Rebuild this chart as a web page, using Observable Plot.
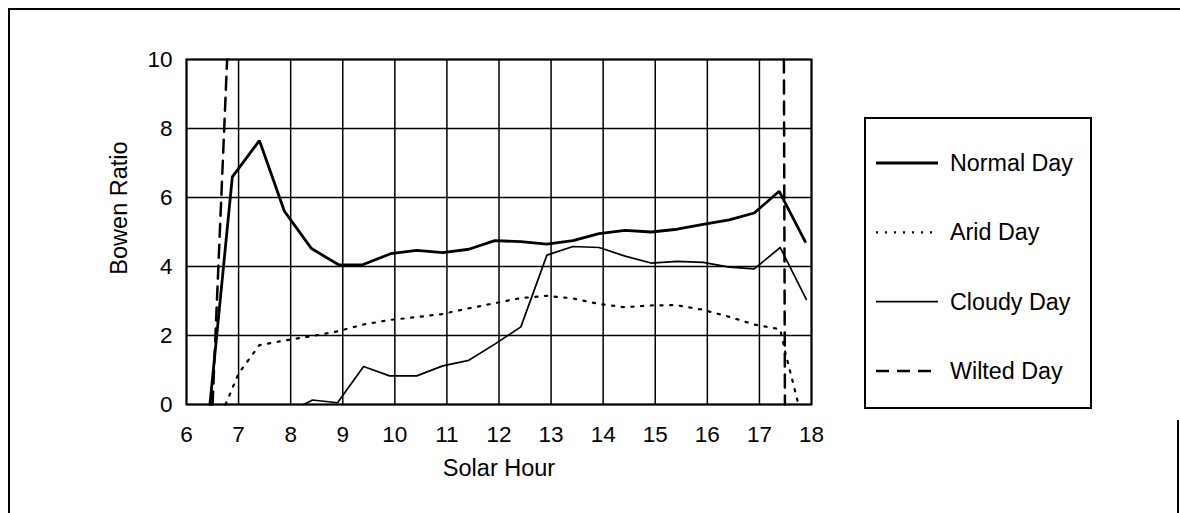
<!DOCTYPE html>
<html>
<head>
<meta charset="utf-8">
<script src="https://cdn.jsdelivr.net/npm/d3@7"></script>
<script src="https://cdn.jsdelivr.net/npm/@observablehq/plot@0.6"></script>
<style>
  body { margin: 0; background: #fff; }
  #wrap { position: relative; width: 1180px; height: 513px; overflow: hidden; background: #fff;
          font-family: "Liberation Sans", Arial, Helvetica, sans-serif; }
  #wrap svg { position: absolute; left: 0; top: 0; }
  .outer { position: absolute; border-color: #000; border-style: solid; border-width: 0; }
</style>
</head>
<body>
<div id="wrap">
  <div class="outer" style="left:8px;top:8px;width:1180px;height:600px;border-top-width:2px;border-left-width:2px;"></div>
  <div class="outer" style="left:1177px;top:420px;width:0;height:100px;border-left-width:2px;"></div>
</div>
<script>
// ---- data ----
const xTicks = [6, 7, 8, 9, 10, 11, 12, 13, 14, 15, 16, 17, 18];
const yTicks = [0, 2, 4, 6, 8, 10];
const xLabel = "Solar Hour";
const yLabel = "Bowen Ratio";
const seriesNames = ["Normal Day", "Arid Day", "Cloudy Day", "Wilted Day"];

const normalHour  = [6.45, 6.88, 7.4, 7.88, 8.4, 8.92, 9.38, 9.92, 10.42, 10.92, 11.42, 11.92, 12.42, 12.92, 13.42, 13.92, 14.42, 14.92, 15.42, 15.92, 16.42, 16.9, 17.38, 17.88];
const normalRatio = [0, 6.6, 7.65, 5.6, 4.52, 4.05, 4.05, 4.37, 4.47, 4.4, 4.5, 4.75, 4.72, 4.65, 4.75, 4.95, 5.05, 5.0, 5.08, 5.22, 5.35, 5.55, 6.18, 4.72];

const aridHour  = [6.75, 7.0, 7.4, 7.9, 8.4, 8.9, 9.4, 9.9, 10.4, 10.9, 11.4, 11.9, 12.4, 12.9, 13.4, 13.9, 14.4, 14.9, 15.4, 15.9, 16.4, 16.9, 17.4, 17.5, 17.75];
const aridRatio = [0, 0.9, 1.72, 1.86, 1.98, 2.12, 2.32, 2.45, 2.53, 2.62, 2.78, 2.93, 3.08, 3.15, 3.08, 2.92, 2.82, 2.87, 2.88, 2.75, 2.55, 2.32, 2.18, 1.5, 0];

const cloudyHour  = [8.25, 8.42, 8.9, 9.4, 9.9, 10.42, 10.92, 11.42, 11.92, 12.42, 12.92, 13.42, 13.92, 14.42, 14.92, 15.42, 15.92, 16.42, 16.9, 17.4, 17.9];
const cloudyRatio = [0, 0.13, 0.05, 1.1, 0.83, 0.83, 1.12, 1.28, 1.75, 2.25, 4.33, 4.58, 4.55, 4.3, 4.1, 4.15, 4.12, 3.98, 3.93, 4.55, 3.05];

const wiltedHour    = [6.5, 6.78, 17.47, 17.49];
const wiltedRatio   = [0, 10, 10, 0];
const wiltedSegment = ["morning", "morning", "evening", "evening"];

// ---- styles ----
const FONT = "'Liberation Sans', Arial, Helvetica, sans-serif";
const styles = {
  "Normal Day": {stroke: "#000", strokeWidth: 2.8},
  "Arid Day":   {stroke: "#000", strokeWidth: 2.2, strokeDasharray: "2.2,7.5"},
  "Cloudy Day": {stroke: "#000", strokeWidth: 1.7},
  "Wilted Day": {stroke: "#000", strokeWidth: 2.5, strokeDasharray: "13,8"}
};

const rows = (h, v, z) => h.map((x, i) => ({hour: x, ratio: v[i], seg: z ? z[i] : "a"}));

const chart = Plot.plot({
  width: 1180, height: 513,
  marginLeft: 186, marginRight: 369, marginTop: 59, marginBottom: 109,
  x: {domain: [6, 18]},
  y: {domain: [0, 10]},
  style: {fontFamily: FONT, fontSize: "22px", color: "#000", background: "transparent"},
  marks: [
    Plot.ruleX(xTicks, {stroke: "#000", strokeWidth: 1.5}),
    Plot.ruleY(yTicks, {stroke: "#000", strokeWidth: 1.5}),
    Plot.line(rows(cloudyHour, cloudyRatio), {x: "hour", y: "ratio", ...styles["Cloudy Day"]}),
    Plot.line(rows(aridHour, aridRatio), {x: "hour", y: "ratio", ...styles["Arid Day"]}),
    Plot.line(rows(normalHour, normalRatio), {x: "hour", y: "ratio", strokeLinejoin: "miter", ...styles["Normal Day"]}),
    Plot.line(rows(wiltedHour, wiltedRatio, wiltedSegment), {x: "hour", y: "ratio", z: "seg", ...styles["Wilted Day"]}),
    Plot.frame({stroke: "#000", strokeWidth: 2}),
    Plot.axisX(xTicks, {tickSize: 0, tickPadding: 22, fontSize: 22.5, label: null}),
    Plot.axisY(yTicks, {tickSize: 0, tickPadding: 14, fontSize: 22.5, label: null}),
    Plot.text([xLabel], {frameAnchor: "bottom", dy: 64, fontSize: 23.5, textAnchor: "middle", lineAnchor: "middle"}),
    Plot.text([yLabel], {frameAnchor: "left", dx: -67, dy: -24, rotate: -90, fontSize: 23.5, textAnchor: "middle", lineAnchor: "middle"})
  ]
});
document.getElementById("wrap").appendChild(chart);

// ---- legend ----
const leg = d3.select("#wrap").append("svg").attr("width", 1180).attr("height", 513);
leg.append("rect").attr("x", 865).attr("y", 118).attr("width", 226).attr("height", 290)
  .attr("fill", "none").attr("stroke", "#000").attr("stroke-width", 2);
const rowY = d3.scalePoint().domain(seriesNames).range([163, 371]);
seriesNames.forEach(name => {
  const s = styles[name];
  const y = rowY(name);
  leg.append("line").attr("x1", 876).attr("x2", 938).attr("y1", y).attr("y2", y)
    .attr("stroke", s.stroke).attr("stroke-width", name === "Cloudy Day" ? 1.6 : s.strokeWidth)
    .attr("stroke-dasharray", name === "Arid Day" ? "2,7" : (s.strokeDasharray || null));
  leg.append("text").attr("x", 950).attr("y", y).attr("dy", "0.35em")
    .attr("font-family", FONT).attr("font-size", 23.3).attr("fill", "#000").text(name);
});
</script>
</body>
</html>
